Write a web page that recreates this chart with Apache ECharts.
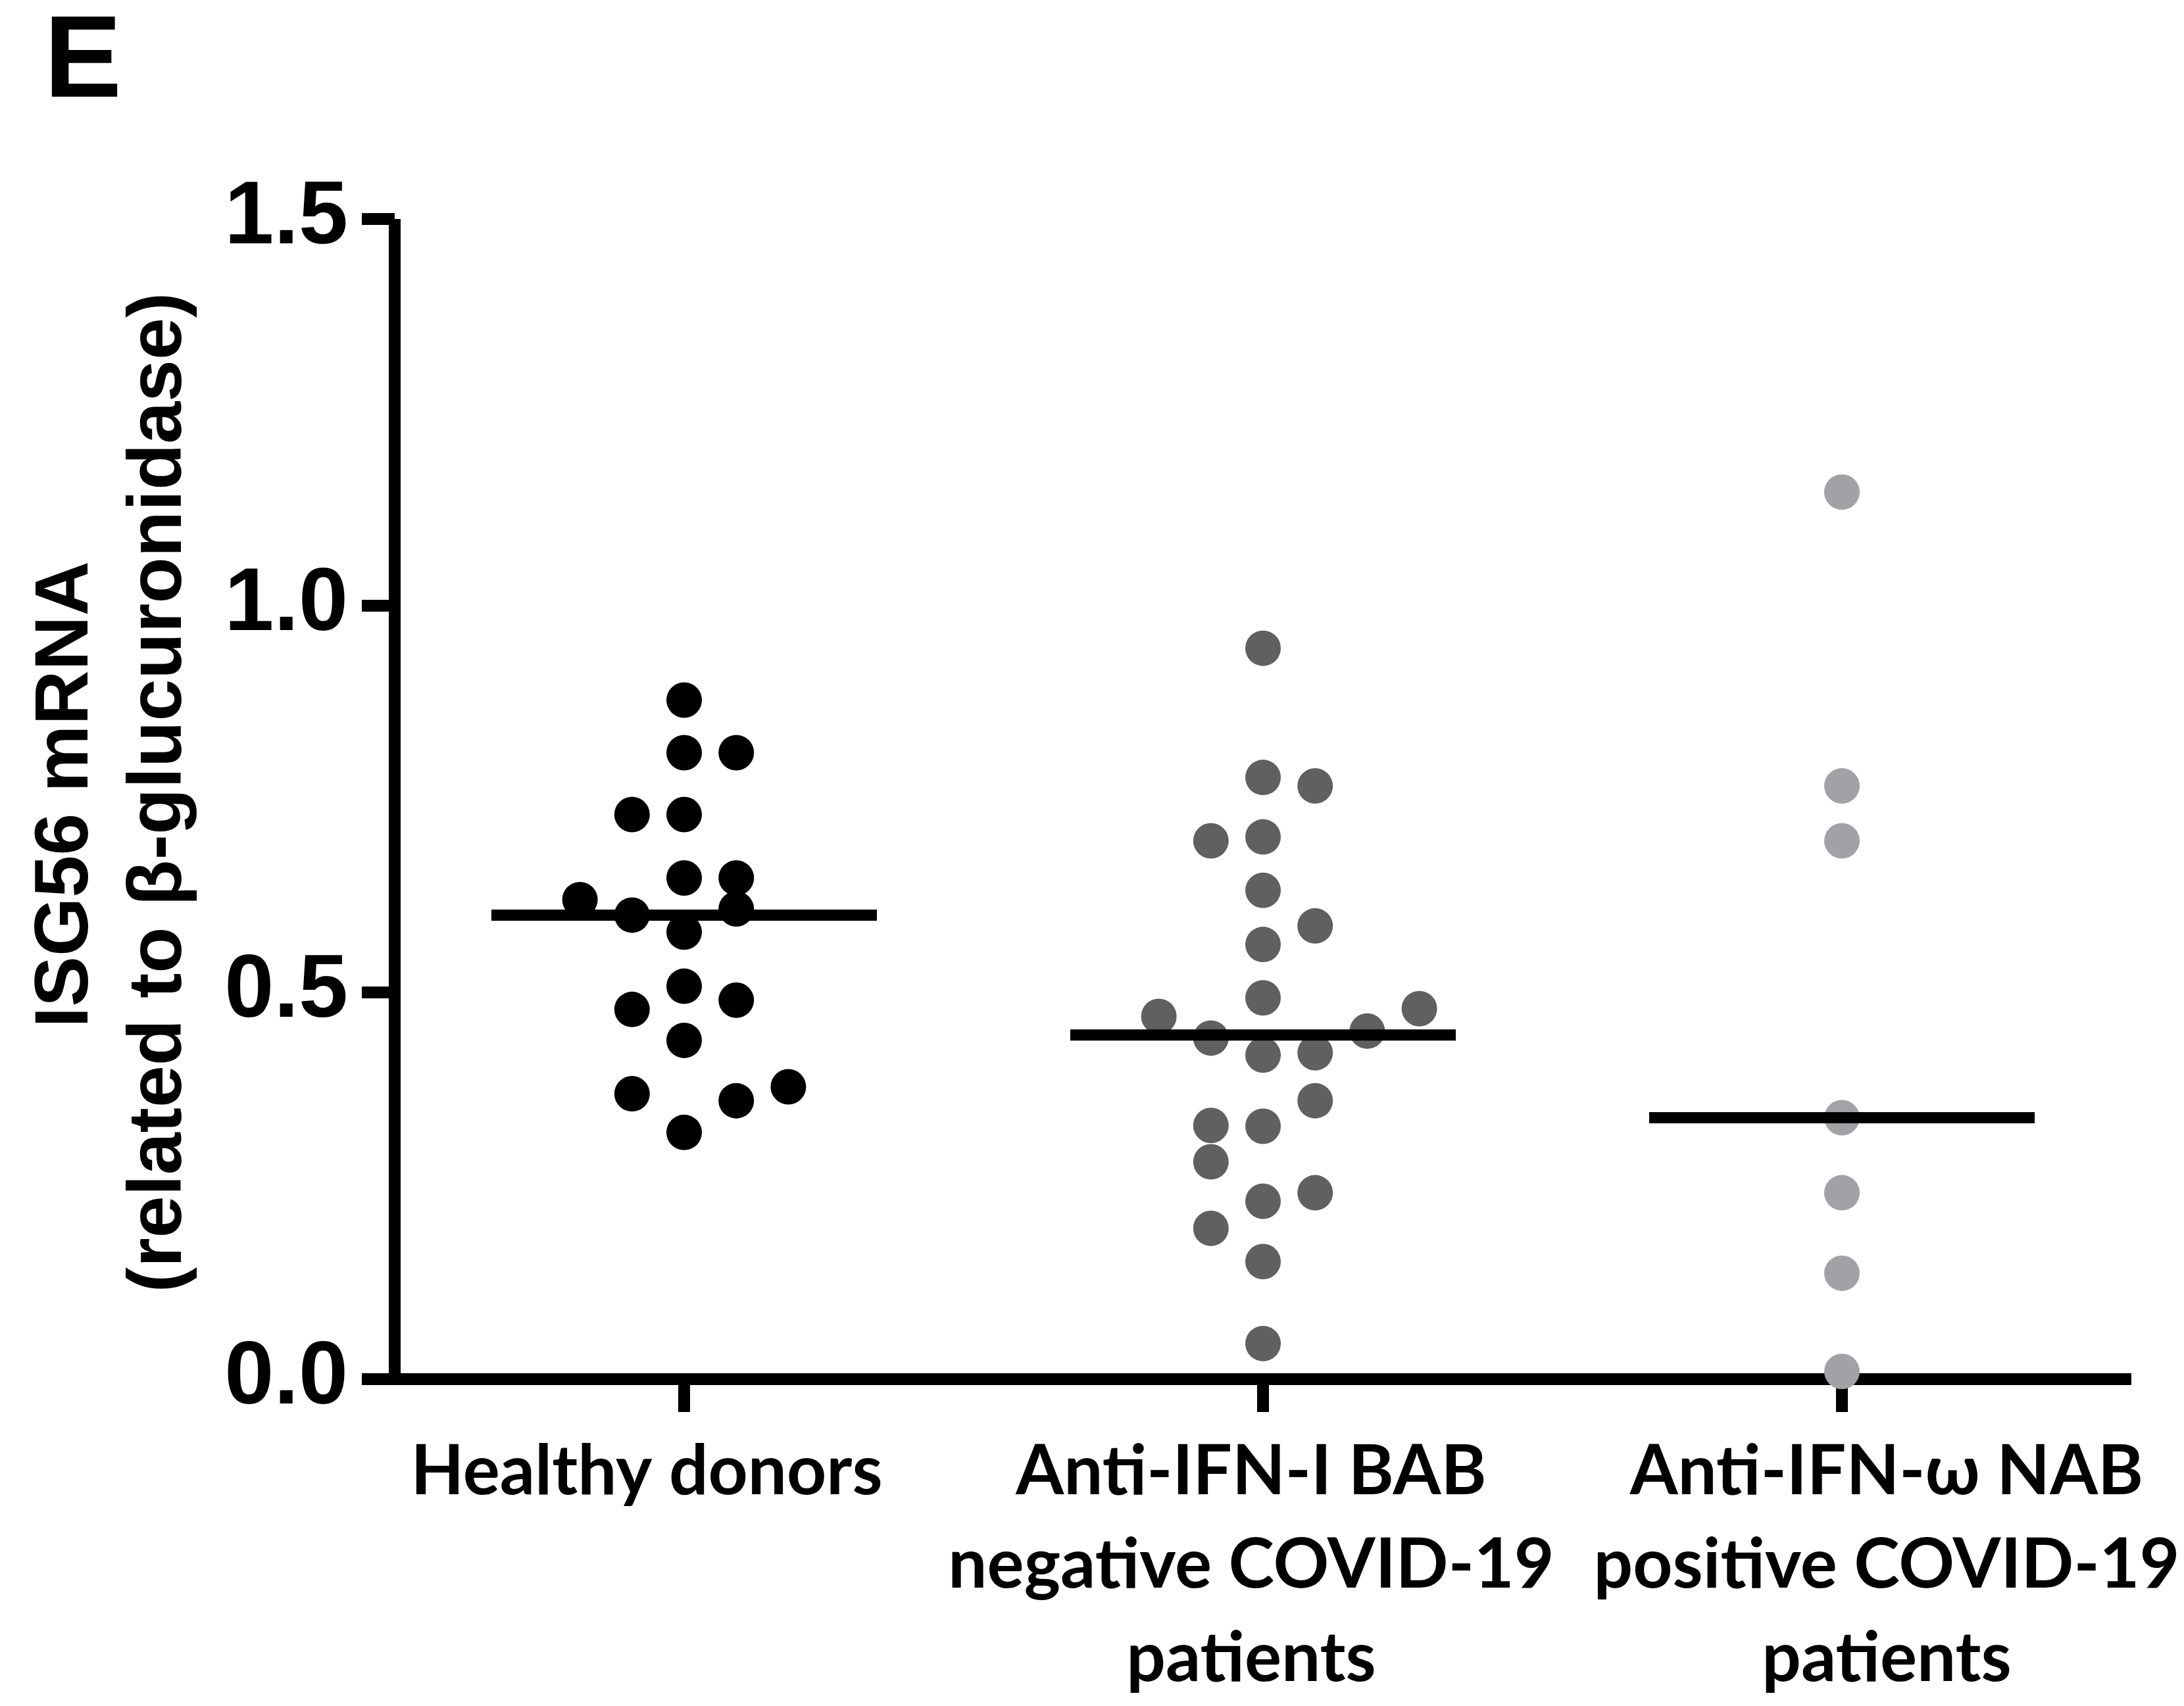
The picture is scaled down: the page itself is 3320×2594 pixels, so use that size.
<!DOCTYPE html>
<html>
<head>
<meta charset="utf-8">
<script src="https://cdn.jsdelivr.net/npm/echarts@6/dist/echarts.min.js"></script>
<style>html,body{margin:0;padding:0;background:#fff}#c{width:3320px;height:2594px}</style>
</head>
<body>
<div id="c"></div>
<script>
// ---- data ----
const categories = ['Healthy donors', 'Anti-IFN-I BAB\nnegative COVID-19\npatients', 'Anti-IFN-ω NAB\npositive COVID-19\npatients'];
const yTicks = [0, 0.5, 1.0, 1.5];

const healthyValues = [0.878, 0.810, 0.810, 0.730, 0.730, 0.648, 0.648, 0.620, 0.600, 0.608, 0.578, 0.508, 0.490, 0.478, 0.438, 0.378, 0.369, 0.360, 0.319];
const healthySlots  = [0, 0, 1, -1, 0, 0, 1, -2, -1, 1, 0, 0, 1, -1, 0, 2, -1, 1, 0];

const babValues = [0.945, 0.778, 0.767, 0.696, 0.701, 0.632, 0.586, 0.562, 0.493, 0.469, 0.479, 0.450, 0.441, 0.419, 0.422, 0.360, 0.328, 0.327, 0.281, 0.241, 0.230, 0.195, 0.152, 0.046];
const babSlots  = [0, 0, 1, -1, 0, 0, 1, 0, 0, -2, 3, 2, -1, 0, 1, 1, -1, 0, -1, 1, 0, -1, 0, 0];

const nabValues = [1.147, 0.767, 0.696, 0.338, 0.241, 0.137, 0.010];
const nabSlots  = [0, 0, 0, 0, 0, 0, 0];

const medians = [0.600, 0.445, 0.338];

// ---- styling ----
const colors = ['#000000', '#606060', '#a2a2a6'];
const SLOT = 0.09;       // horizontal spacing of swarm columns, in category units
const HALF = 0.333;      // half-width of the median line, in category units
const AX = 18;
const labelShift = [-57, -18, 68];   // horizontal nudge of each category label (px)

function pts(g, vals, slots) {
  return vals.map((v, i) => [g + 0.5 + slots[i] * SLOT, v]);
}
const groups = [[healthyValues, healthySlots], [babValues, babSlots], [nabValues, nabSlots]];

const series = [];
groups.forEach((gr, g) => {
  series.push({
    type: 'scatter', xAxisIndex: 1, yAxisIndex: 0,
    data: pts(g, gr[0], gr[1]),
    symbol: 'circle', symbolSize: 54,
    itemStyle: { color: colors[g], opacity: 1 },
    emphasis: { disabled: true },
    z: 2, silent: true
  });
});
medians.forEach((m, g) => {
  series.push({
    type: 'line', xAxisIndex: 1, yAxisIndex: 0,
    data: [[g + 0.5 - HALF, m], [g + 0.5 + HALF, m]],
    symbol: 'none', lineStyle: { color: '#000', width: 17, cap: 'butt', opacity: 1 },
    z: 4, silent: true, animation: false
  });
});

const LABEL_FONT = 'Lato, "Open Sans", sans-serif';
const rich = {};
labelShift.forEach((s, i) => {
  rich['l' + i] = {
    fontFamily: LABEL_FONT, fontWeight: 'bold', fontSize: 105, lineHeight: 142, color: '#000',
    padding: s < 0 ? [0, -2 * s, 0, 0] : [0, 0, 0, 2 * s]
  };
});

const chart = echarts.init(document.getElementById('c'), null, { renderer: 'canvas' });
chart.setOption({
  animation: false,
  backgroundColor: '#fff',
  grid: { left: 600, right: 80, top: 333, bottom: 497, containLabel: false },
  xAxis: [
    {
      type: 'category', data: categories, boundaryGap: true, position: 'bottom',
      axisLine: { show: true, lineStyle: { color: '#000', width: AX, cap: 'butt' } },
      axisTick: { show: true, alignWithLabel: true, length: 50, lineStyle: { color: '#000', width: AX } },
      axisLabel: {
        show: true, margin: 70, color: '#000', fontFamily: LABEL_FONT,
        fontWeight: 'bold', fontSize: 105, lineHeight: 142, interval: 0,
        formatter: (v, i) => v.split('\n').map(line => '{l' + i + '|' + line + '}').join('\n'),
        rich: rich
      },
      splitLine: { show: false }
    },
    { type: 'value', min: 0, max: 3, show: false, position: 'top' }
  ],
  yAxis: [{
    type: 'value', min: 0, max: 1.5, interval: 0.5,
    axisLine: { show: true, lineStyle: { color: '#000', width: AX, cap: 'butt' } },
    axisTick: { show: true, length: 50, lineStyle: { color: '#000', width: AX } },
    axisLabel: {
      margin: 71, color: '#000', fontFamily: '"Liberation Sans", Arial, sans-serif',
      fontWeight: 'bold', fontSize: 135, formatter: v => v.toFixed(1)
    },
    splitLine: { show: false }
  }],
  graphic: [
    { type: 'text', x: 67, y: 98, style: { text: 'E', font: 'bold 177px "Liberation Sans", Arial, sans-serif', fill: '#000', textAlign: 'left', textVerticalAlign: 'middle' } },
    { type: 'text', x: 101, y: 1208, rotation: Math.PI / 2, style: { text: 'ISG56 mRNA', font: 'bold 115px "Liberation Sans", Arial, sans-serif', fill: '#000', textAlign: 'center', textVerticalAlign: 'middle' } },
    { type: 'text', x: 243, y: 1205, rotation: Math.PI / 2, style: { text: '(related to β-glucuronidase)', font: 'bold 115px "Liberation Sans", Arial, sans-serif', fill: '#000', textAlign: 'center', textVerticalAlign: 'middle' } }
  ],
  series: series
});
</script>
</body>
</html>
